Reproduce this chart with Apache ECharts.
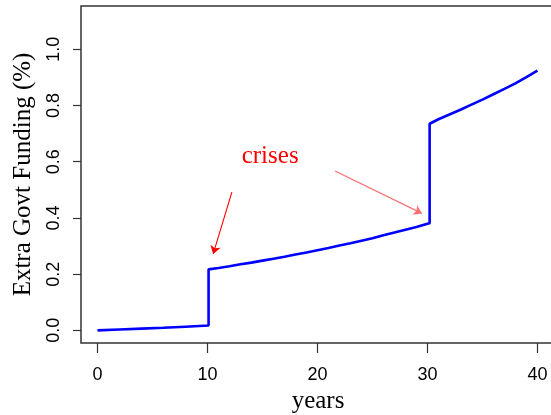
<!DOCTYPE html>
<html>
<head>
<meta charset="utf-8">
<script src="https://cdn.jsdelivr.net/npm/echarts@6/dist/echarts.min.js"></script>
<style>html,body{margin:0;padding:0;background:#fff;}#c{width:551px;height:415px;}</style>
</head>
<body>
<div id="c"></div>
<script>
// Data
const years  = [0, 2, 4, 6, 8, 10.1,
  10.1, 11, 12, 13, 14, 15, 16, 17, 18, 19, 20, 21, 22, 23, 24, 25, 26, 27, 28, 29, 30, 30.2,
  30.2, 31, 32, 33, 34, 35, 36, 37, 38, 39, 40];
const values = [0.000, 0.003, 0.006, 0.009, 0.013, 0.017,
  0.217, 0.222, 0.228, 0.235, 0.241, 0.248, 0.255, 0.262, 0.270, 0.277, 0.285, 0.293, 0.302, 0.310, 0.319, 0.328, 0.338, 0.348, 0.358, 0.368, 0.379, 0.381,
  0.735, 0.751, 0.768, 0.785, 0.803, 0.821, 0.840, 0.859, 0.879, 0.901, 0.924];
const xTicks = [0, 10, 20, 30, 40];
const yTicks = [0.0, 0.2, 0.4, 0.6, 0.8, 1.0];
const annotationText = 'crises';
const textPos = [15.7, 0.62];
const arrow1 = [[12.22, 0.492], [10.52, 0.272]];
const arrow2 = [[21.6, 0.567], [29.5, 0.416]];

const chart = echarts.init(document.getElementById('c'));
const serif = '"Liberation Serif", "Times New Roman", serif';
const sans = '"Liberation Sans", Arial, sans-serif';
chart.setOption({
  animation: false,
  grid: { left: 81, top: 6, width: 474, height: 337, outerBoundsMode: 'none', containLabel: false,
    show: true, borderColor: '#333', borderWidth: 1.5, backgroundColor: 'transparent' },
  xAxis: {
    type: 'value', min: -1.5, max: 41.6,
    name: 'years', nameLocation: 'middle', nameGap: 46,
    nameTextStyle: { fontFamily: serif, fontSize: 25, color: '#000' },
    axisLine: { show: false, onZero: false },
    splitLine: { show: false },
    axisTick: { show: true, length: 10, inside: false, customValues: xTicks, lineStyle: { color: '#333', width: 1.2 } },
    axisLabel: { customValues: xTicks, margin: 23, fontFamily: sans, fontSize: 18, color: '#000' }
  },
  yAxis: {
    type: 'value', min: -0.045, max: 1.154,
    name: 'Extra Govt Funding (%)', nameLocation: 'middle', nameGap: 45,
    nameTextStyle: { fontFamily: serif, fontSize: 25, color: '#000' },
    axisLine: { show: false, onZero: false },
    splitLine: { show: false },
    axisTick: { show: true, length: 8, customValues: yTicks, lineStyle: { color: '#333', width: 1.2 } },
    axisLabel: { customValues: yTicks, rotate: 90, margin: 18, fontFamily: sans, fontSize: 18, color: '#000',
      formatter: v => v.toFixed(1) }
  },
  series: [{
    type: 'line',
    data: years.map((x, i) => [x, values[i]]),
    showSymbol: false, symbol: 'none',
    lineStyle: { color: '#0000ff', width: 2.6 },
    markLine: {
      silent: true, symbol: ['none', 'arrow'], symbolSize: 8,
      label: { show: false },
      data: [
        [{ coord: arrow1[0], lineStyle: { color: '#ff0000', width: 1.1, type: 'solid' } }, { coord: arrow1[1] }],
        [{ coord: arrow2[0], lineStyle: { color: '#ff7070', width: 1.3, type: 'solid' } }, { coord: arrow2[1] }]
      ]
    },
    markPoint: {
      silent: true, symbol: 'circle', symbolSize: 0,
      data: [{ coord: textPos, value: annotationText }],
      label: { show: true, position: 'inside', formatter: annotationText, fontFamily: serif, fontSize: 25, color: '#ff0000' }
    }
  }]
});
</script>
</body>
</html>
